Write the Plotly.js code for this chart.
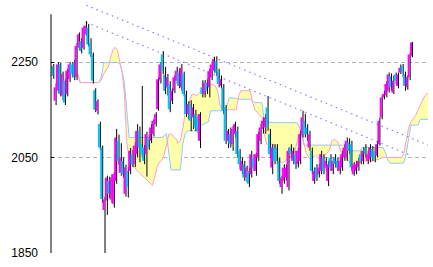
<!DOCTYPE html>
<html><head><meta charset="utf-8">
<script src="https://cdn.plot.ly/plotly-3.0.1.min.js"></script>
<style>html,body{margin:0;padding:0;background:#fff}#c{width:433px;height:267px}</style>
</head><body><div id="c"></div>
<script>
// y-axis tick labels
const tickValues = [1850, 2050, 2250];
const tickLabels = ["1850", "2050", "2250"];

// candle data (index 0..154)
const open  = [2242,2169,2190,2245,2180,2211,2183,2214,2245,2249,2218,2280,2294,2280,2308,2322,2290,2266,2191,2148,
2120,2071,1940,1960,2001,1962,1953,2001,2085,2018,2043,1974,2022,2022,2057,2036,2057,2106,2078,2071,
2057,2092,2085,2099,2120,2151,2211,2266,2224,2197,2204,2169,2190,2211,2228,2197,2225,2183,2141,2162,
2134,2141,2134,2085,2197,2183,2207,2197,2218,2232,2252,2231,2200,2197,2155,2085,2099,2078,2099,2106,
2064,2022,2036,2008,2022,2015,2050,2022,2050,2085,2110,2113,2155,2099,2029,2071,2071,2043,1988,2001,
2008,1988,2071,2043,2057,2036,2043,2099,2127,2113,2071,2064,2001,2029,2015,2022,2050,2029,2001,2050,
2022,2050,2043,2022,2029,2050,2050,2082,2078,2015,2022,2029,2057,2043,2071,2043,2046,2068,2064,2054,
2078,2134,2176,2180,2190,2221,2186,2224,2200,2228,2242,2224,2197,2218,2263];
const high  = [2246,2205,2250,2248,2230,2214,2236,2250,2250,2255,2290,2312,2300,2326,2336,2330,2300,2270,2195,2172,
2125,2075,1968,2012,2010,2015,2020,2110,2098,2080,2050,2035,2030,2070,2066,2082,2120,2115,2200,2076,
2104,2098,2120,2130,2145,2218,2250,2273,2240,2225,2210,2195,2222,2240,2236,2246,2230,2190,2168,2170,
2162,2150,2140,2145,2212,2212,2214,2236,2250,2261,2262,2236,2222,2204,2160,2110,2113,2116,2125,2115,
2068,2050,2043,2033,2029,2064,2057,2060,2104,2120,2134,2141,2179,2110,2078,2078,2078,2050,2012,2036,
2036,2071,2078,2071,2064,2071,2106,2148,2141,2120,2106,2071,2029,2036,2036,2064,2057,2050,2043,2057,
2050,2057,2050,2050,2064,2078,2092,2090,2085,2040,2043,2050,2064,2071,2078,2064,2078,2074,2071,2085,
2134,2180,2190,2210,2228,2226,2222,2228,2228,2245,2246,2230,2222,2270,2292];
const low   = [2215,2160,2185,2178,2170,2160,2178,2208,2218,2212,2212,2275,2268,2276,2305,2283,2260,2205,2145,2140,
2065,1955,1850,1930,1965,1955,1945,1995,2035,2012,2008,1968,1966,2015,2030,2030,2050,2040,2050,2036,
2010,2066,2080,2094,2115,2148,2205,2225,2183,2180,2145,2162,2185,2205,2195,2190,2178,2135,2130,2105,
2110,2105,2100,2070,2176,2176,2183,2176,2212,2228,2221,2197,2195,2141,2078,2070,2071,2064,2092,2050,
2025,2015,2001,1998,1988,2008,2022,2012,2043,2078,2100,2100,2106,2050,2015,2036,2036,1995,1974,1995,
2001,1981,2050,2036,2026,2029,2036,2092,2092,2085,2064,2015,1995,2001,2008,2015,2015,2022,1990,2022,
2015,2029,2022,2015,2022,2043,2043,2057,2022,2012,2015,2022,2036,2036,2050,2036,2040,2043,2040,2050,
2075,2130,2172,2176,2186,2190,2183,2204,2195,2225,2218,2190,2192,2212,2260];
const close = [2221,2197,2245,2183,2225,2165,2232,2245,2225,2218,2284,2308,2273,2322,2326,2287,2266,2211,2150,2168,
2071,1963,1962,2008,1974,2008,2015,2092,2043,2050,2015,2029,1988,2064,2036,2075,2106,2071,2057,2043,
2099,2071,2113,2127,2141,2214,2245,2232,2190,2218,2151,2190,2218,2232,2200,2238,2183,2141,2162,2127,
2155,2113,2106,2141,2183,2207,2190,2231,2245,2256,2228,2204,2214,2148,2085,2106,2078,2110,2120,2057,
2036,2043,2008,2029,1995,2057,2029,2057,2099,2113,2127,2134,2113,2057,2071,2043,2043,2001,2008,2029,
2029,2064,2057,2064,2036,2064,2099,2134,2099,2099,2099,2022,2022,2008,2029,2057,2022,2043,2036,2029,
2043,2036,2029,2043,2057,2071,2085,2064,2029,2036,2036,2043,2043,2064,2057,2057,2071,2050,2046,2078,
2127,2176,2183,2204,2224,2197,2211,2211,2224,2238,2228,2200,2218,2266,2291];

// Ichimoku cloud (leading spans), by period index
const cloudX = [11,12,17,20,21,22,23,24,25,26,27,28,29,30,31,32,33,35,38,40,
42,43,44,45,46,47,48,49,50,51,53,54,55,56,57,58,59,60,62,63,
64,65,67,68,70,71,72,73,74,75,76,79,80,81,85,86,87,89,90,91,
92,95,96,97,99,101,103,104,105,106,107,108,109,110,111,112,113,114,115,117,
119,120,121,122,123,124,125,127,128,130,131,132,133,138,142,143,144,145,150,151,
152,153,154,156,157,158,160,162];
const spanA = [2225,2207,2207,2207,2212,2225,2232,2240,2258,2275,2281,2275,2250,2228,2180,2080,2050,2030,2015,2005,
1995,1992,2010,2030,2040,2045,2055,2075,2098,2100,2090,2080,2085,2110,2141,2150,2170,2183,2180,2185,
2190,2195,2200,2205,2200,2190,2160,2152,2148,2150,2150,2150,2180,2190,2190,2165,2150,2140,2134,2100,
2078,2078,2060,2045,2038,2048,2055,2060,2080,2100,2105,2080,2060,2050,2045,2050,2055,2050,2048,2055,
2065,2085,2088,2085,2078,2060,2052,2045,2035,2029,2032,2040,2043,2043,2050,2050,2050,2050,2050,2060,
2090,2113,2125,2138,2150,2160,2180,2188];
const spanB = [2225,2207,2207,2207,2218,2247,2249,2249,2249,2249,2249,2249,2247,2230,2205,2150,2092,2092,2092,2092,
2092,2092,2092,2092,2092,2092,2095,2100,2060,2024,2024,2024,2024,2078,2100,2106,2106,2106,2106,2112,
2118,2120,2125,2148,2148,2148,2148,2148,2150,2160,2175,2174,2172,2172,2172,2168,2165,2165,2165,2127,
2125,2123,2123,2123,2123,2123,2123,2123,2123,2115,2100,2076,2076,2076,2076,2076,2076,2076,2076,2076,
2076,2076,2076,2076,2076,2076,2076,2070,2064,2064,2064,2064,2071,2071,2071,2060,2045,2038,2038,2040,
2060,2090,2118,2118,2118,2130,2130,2130];

// trend lines (period index, price)
const trendUpperX = [14.6, 161.4];
const trendUpperY = [2369, 2076];
const trendLowerX = [14.6, 153.6];
const trendLowerY = [2333, 2055];

const upX=[],upY=[],dnX=[],dnY=[],wkX=[],wkY=[];
for (let i=0;i<close.length;i++){
  if (close[i]>=open[i]) { upX.push(i,i,null); upY.push(open[i],close[i],null); }
  else { dnX.push(i,i,null); dnY.push(open[i],close[i],null); }
  wkX.push(i+0.64,i+0.64,null); wkY.push(low[i],high[i],null);
}

const traces = [
  {type:'scatter',mode:'lines',x:cloudX,y:spanB,line:{color:'#8ec8ff',width:1},hoverinfo:'skip'},
  {type:'scatter',mode:'lines',x:cloudX,y:spanA,line:{color:'#ff9fc4',width:1},fill:'tonexty',fillcolor:'#ffffaa',hoverinfo:'skip'},
  {type:'scatter',mode:'lines',x:trendUpperX,y:trendUpperY,line:{color:'#8080ff',width:1.2,dash:'1.5px,4px'},hoverinfo:'skip'},
  {type:'scatter',mode:'lines',x:trendLowerX,y:trendLowerY,line:{color:'#8080ff',width:1.2,dash:'1.5px,4px'},hoverinfo:'skip'},
  {type:'scatter',mode:'lines',x:wkX,y:wkY,line:{color:'#000000',width:1},connectgaps:false,hoverinfo:'skip'},
  {type:'scatter',mode:'lines',x:upX,y:upY,line:{color:'#ff00ff',width:2},connectgaps:false,hoverinfo:'skip'},
  {type:'scatter',mode:'lines',x:dnX,y:dnY,line:{color:'#00c0ff',width:2},connectgaps:false,hoverinfo:'skip'}
];

const layout = {
  width:433,height:267,
  margin:{l:51,r:5,t:0,b:14},
  paper_bgcolor:'#ffffff',plot_bgcolor:'#ffffff',
  showlegend:false,
  xaxis:{range:[-0.55,161.3],visible:false,fixedrange:true},
  yaxis:{range:[1850,2380],tickmode:'array',tickvals:tickValues,ticktext:tickLabels,
    ticks:'inside',ticklen:3,tickwidth:1,tickcolor:'#000',
    showgrid:true,gridcolor:'#b4b4b4',gridwidth:1,griddash:'4px,3px',
    zeroline:false,showline:false,ticklabelstandoff:12,
    tickfont:{family:'"Liberation Sans Narrow","Arial Narrow","Liberation Sans",sans-serif',size:12,color:'#000'},
    fixedrange:true},
  shapes:[{type:'line',xref:'paper',x0:0,x1:0,yref:'y',y0:1850,y1:2350,line:{color:'#000',width:1}}]
};

Plotly.newPlot('c',traces,layout,{staticPlot:true,displayModeBar:false});
</script>
</body></html>
